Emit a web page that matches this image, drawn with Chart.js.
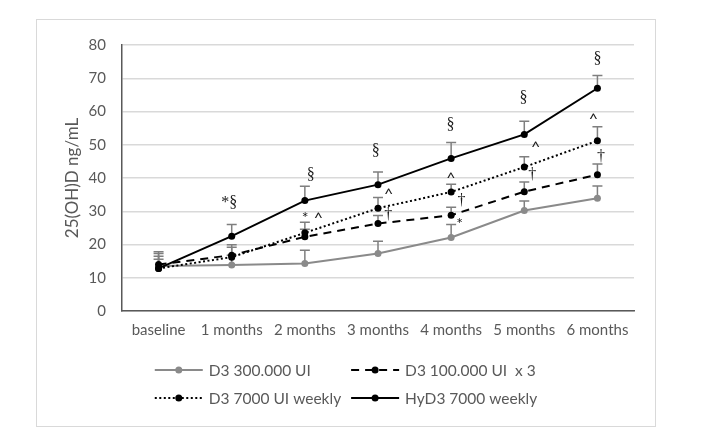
<!DOCTYPE html>
<html>
<head>
<meta charset="utf-8">
<script src="https://cdn.jsdelivr.net/npm/chart.js@4.4.0/dist/chart.umd.min.js"></script>
<style>
  html, body { margin: 0; padding: 0; background: #fff; }
  #box {
    position: absolute; left: 36px; top: 19px;
    width: 620px; height: 408px;
    box-sizing: border-box; border: 1px solid #d9d9d9;
  }
  canvas { display: block; }
</style>
</head>
<body>
<div id="box"><canvas id="chart"></canvas></div>
<script>
// categories / timepoints
const categories = ["baseline", "1 months", "2 months", "3 months", "4 months", "5 months", "6 months"];

// series (mean) and upper error (+SD)
const seriesLabels = ["D3 300.000 UI", "D3 100.000 UI  x 3", "D3 7000 UI weekly", "HyD3 7000 weekly"];
const d3_300k     = [13.5, 13.8, 14.3, 17.3, 22.1, 30.2, 33.9];
const d3_300k_err = [3.8, 3.0, 4.0, 3.7, 3.9, 2.9, 3.7];
const d3_100k     = [14.0, 16.8, 22.3, 26.3, 28.8, 35.9, 41.0];
const d3_100k_err = [2.5, 2.4, 2.3, 2.4, 2.4, 2.9, 3.2];
const d3_7000     = [12.8, 16.2, 23.5, 30.9, 35.8, 43.3, 51.2];
const d3_7000_err = [2.8, 3.7, 3.2, 3.2, 2.3, 3.1, 4.2];
const hyd3        = [12.8, 22.5, 33.2, 38.0, 45.9, 53.1, 67.0];
const hyd3_err    = [5.0, 3.5, 4.3, 3.8, 4.8, 4.0, 3.8];

const yTitle = "25(OH)D ng/mL";

// significance marks: category position, value, symbol
const markX    = [0.96, 2.08, 2.0, 2.19, 2.97, 3.15, 3.14, 3.99, 4.0, 4.14, 4.11, 4.99, 5.16, 5.11, 6.0, 5.95, 6.05];
const markY    = [32.9, 41.3, 28.9, 28.9, 48.5, 36.1, 29.1, 56.1, 40.8, 33.4, 27.2, 64.5, 50.2, 41.3, 76.1, 58.6, 46.7];
const markText = ["*§", "§", "*", "^", "§", "^", "†", "§", "^", "†", "*", "§", "^", "†", "§", "^", "†"];

const textColor = "#595959";
const sans = "Lato";

// error bars (plus only), drawn under the lines
const errorBars = {
  id: "errorBars",
  beforeDatasetsDraw(chart) {
    const ctx = chart.ctx;
    const y = chart.scales.y;
    ctx.save();
    ctx.strokeStyle = "#7f7f7f";
    ctx.lineWidth = 1.5;
    chart.data.datasets.forEach((ds, di) => {
      const meta = chart.getDatasetMeta(di);
      meta.data.forEach((pt, i) => {
        const top = y.getPixelForValue(ds.data[i] + ds.errors[i]);
        ctx.beginPath();
        ctx.moveTo(pt.x, pt.y);
        ctx.lineTo(pt.x, top);
        ctx.moveTo(pt.x - 5, top);
        ctx.lineTo(pt.x + 5, top);
        ctx.stroke();
      });
    });
    ctx.restore();
  },
};

// significance symbols
const marks = {
  id: "marks",
  afterDatasetsDraw(chart) {
    const ctx = chart.ctx;
    const { x, y } = chart.scales;
    ctx.save();
    ctx.fillStyle = "#1a1a1a";
    ctx.textBaseline = "alphabetic";
    ctx.textAlign = "left";
    markText.forEach((t, i) => {
      const serif = /[§†]/.test(t);
      ctx.font = serif ? "16px 'Liberation Serif'" : "16px " + sans;
      const m = ctx.measureText(t);
      const px = x.getPixelForValue(markX[i]);
      const py = y.getPixelForValue(markY[i]);
      const w = m.actualBoundingBoxLeft + m.actualBoundingBoxRight;
      const dx = px - w / 2 + m.actualBoundingBoxLeft;
      const dy = py + (m.actualBoundingBoxAscent - m.actualBoundingBoxDescent) / 2;
      ctx.fillText(t, dx, dy);
    });
    ctx.restore();
  },
};

// vertical axis title, placed like Excel does
const yAxisTitle = {
  id: "yAxisTitle",
  afterDraw(chart) {
    const ctx = chart.ctx;
    const area = chart.chartArea;
    ctx.save();
    ctx.translate(area.left - 49, (area.top + area.bottom) / 2);
    ctx.rotate(-Math.PI / 2);
    ctx.font = "17px " + sans;
    ctx.fillStyle = textColor;
    ctx.textAlign = "center";
    ctx.textBaseline = "middle";
    ctx.fillText(yTitle, 0, 0);
    ctx.restore();
  },
};

// Excel-like legend: 2 rows x 2 columns, line sample with marker
const excelLegend = {
  id: "excelLegend",
  afterDraw(chart) {
    const ctx = chart.ctx;
    const ds = chart.data.datasets;
    const sample = 48, gapText = 6, gapCol = 10;
    ctx.save();
    ctx.font = "15.5px " + sans;
    const itemW = ds.map((d) => sample + gapText + ctx.measureText(d.label).width);
    const col1 = Math.max(itemW[0], itemW[2]);
    const col2 = Math.max(itemW[1], itemW[3]);
    const total = col1 + gapCol + col2;
    const left = (chart.width - total) / 2;
    const base = chart.scales.x.bottom;
    const rowsY = [base + 29, base + 57];
    ds.forEach((d, i) => {
      const row = Math.floor(i / 2);
      const lx = i % 2 === 0 ? left : left + col1 + gapCol;
      const ly = rowsY[row];
      ctx.strokeStyle = d.borderColor;
      ctx.lineWidth = d.borderWidth;
      ctx.setLineDash(d.borderDash || []);
      ctx.beginPath();
      ctx.moveTo(lx, ly);
      ctx.lineTo(lx + sample, ly);
      ctx.stroke();
      ctx.setLineDash([]);
      ctx.fillStyle = d.pointBackgroundColor;
      ctx.beginPath();
      ctx.arc(lx + sample / 2, ly, 3.5, 0, Math.PI * 2);
      ctx.fill();
      ctx.fillStyle = textColor;
      ctx.textBaseline = "middle";
      ctx.fillText(d.label, lx + sample + gapText, ly + 1);
    });
    ctx.restore();
  },
};

function series(label, data, errors, color, dash, order) {
  return {
    label,
    data,
    errors,
    borderColor: color,
    backgroundColor: color,
    borderWidth: 2,
    borderDash: dash,
    pointRadius: 3.5,
    pointBackgroundColor: color,
    pointBorderColor: color,
    pointBorderWidth: 0,
    tension: 0,
    fill: false,
    order,
  };
}

new Chart(document.getElementById("chart"), {
  type: "line",
  data: {
    labels: categories,
    datasets: [
      series(seriesLabels[0], d3_300k, d3_300k_err, "#8a8a8a", [], 4),
      series(seriesLabels[1], d3_100k, d3_100k_err, "#000000", [8, 6], 3),
      series(seriesLabels[2], d3_7000, d3_7000_err, "#000000", [2, 2.5], 2),
      series(seriesLabels[3], hyd3, hyd3_err, "#000000", [], 1),
    ],
  },
  options: {
    responsive: true,
    maintainAspectRatio: false,
    animation: false,
    layout: { padding: { left: 28, right: 21, top: 20, bottom: 85 } },
    plugins: {
      legend: { display: false },
      tooltip: { enabled: false },
    },
    scales: {
      x: {
        offset: true,
        grid: { display: false, drawTicks: false },
        border: { color: "#595959", width: 1.5 },
        ticks: {
          color: textColor,
          font: { family: sans, size: 15 },
          padding: 10,
          maxRotation: 0,
          autoSkip: false,
        },
        afterFit: (s) => { s.height = 30; },
      },
      y: {
        min: 0,
        max: 80,
        ticks: {
          stepSize: 10,
          color: textColor,
          font: { family: sans, size: 15 },
          padding: 16,
        },
        grid: { color: "#d9d9d9", lineWidth: 1.5, drawTicks: false },
        border: { color: "#595959", width: 1.5 },
        afterFit: (s) => { s.width = 57; },
      },
    },
  },
  plugins: [errorBars, marks, yAxisTitle, excelLegend],
});
</script>
</body>
</html>
